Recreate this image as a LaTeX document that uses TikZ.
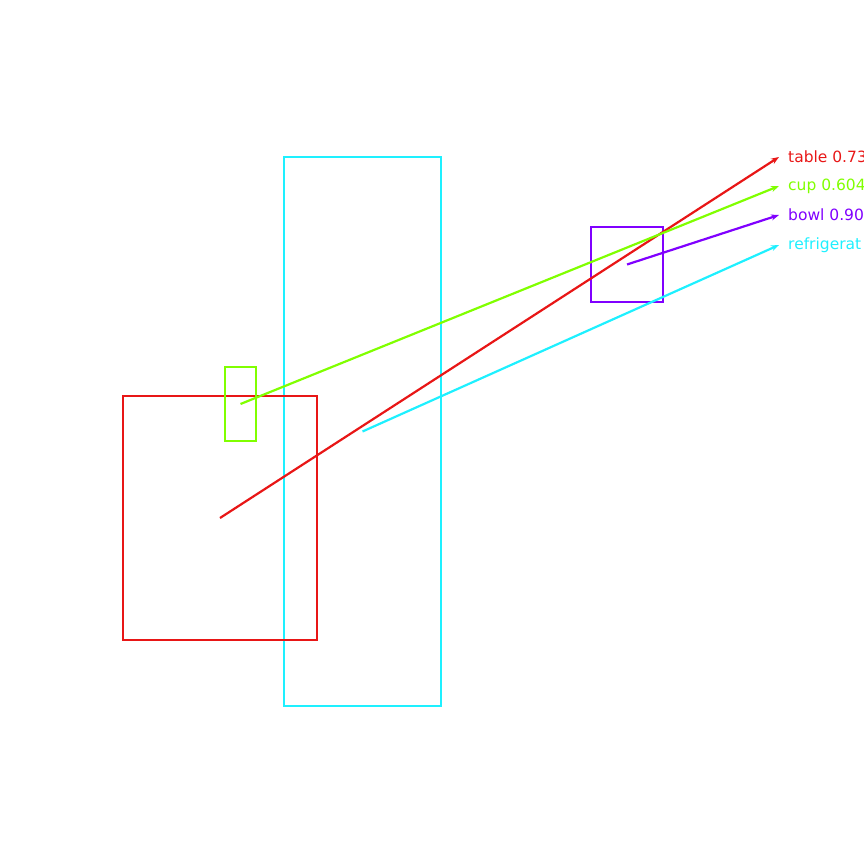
\documentclass[tikz,border=0pt]{standalone}
\usepackage{fontspec}
\setmainfont{DejaVu Sans}
\usetikzlibrary{arrows.meta,positioning}
\definecolor{tablered}{RGB}{232,22,22}
\definecolor{cupgreen}{RGB}{128,255,0}
\definecolor{bowlviolet}{RGB}{128,0,255}
\definecolor{fridgecyan}{RGB}{30,240,255}
\tikzset{
  >={Stealth[length=8pt,width=6pt]},
  det box/.style={draw=#1,line width=2pt,inner sep=0pt,outer sep=0pt},
  det box/.default=tablered,
  flow/.style={->,line width=2.2pt,draw=#1},
  flow/.default=tablered,
  tag/.style={text=#1,font=\fontsize{15.5}{17}\selectfont,anchor=west,inner xsep=0pt},
}
\begin{document}
\begin{tikzpicture}[x=1pt,y=-1pt]
  \clip (0,0) rectangle (864,864);
  % detections
  \node[det box=fridgecyan,minimum width=157pt,minimum height=549pt] (fridge) at (362.5,431.5) {};
  \node[det box=tablered,minimum width=194pt,minimum height=244pt] (table) at (220,518) {};
  \node[det box=cupgreen,minimum width=31pt,minimum height=74pt] (cup) at (240.5,404) {};
  \node[det box=bowlviolet,minimum width=72pt,minimum height=75pt] (bowl) at (627,264.5) {};
  % labels
  \node[tag=tablered] (ltable) at (788,157) {table 0.73};
  \node[tag=cupgreen] (lcup) at (788,186) {cup 0.604};
  \node[tag=bowlviolet] (lbowl) at (788,215) {bowl 0.90};
  \node[tag=fridgecyan] (lfridge) at (788,245) {refrigerat};
  \foreach \n/\c in {table/tablered,cup/cupgreen,bowl/bowlviolet,fridge/fridgecyan}
    \draw[flow=\c] (\n.center) -- ([xshift=-9pt]l\n.west);
\end{tikzpicture}
\end{document}
